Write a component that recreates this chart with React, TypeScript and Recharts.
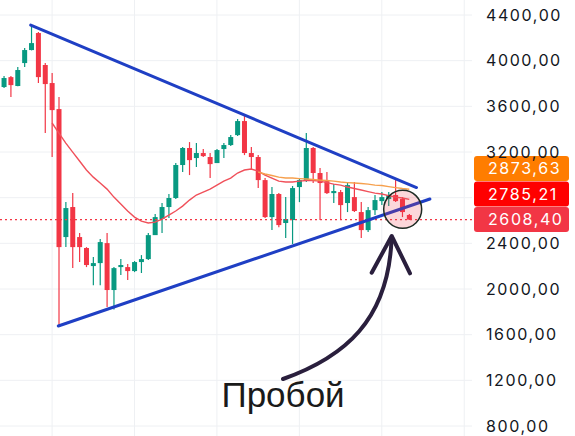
import React from 'react';
import {
  ComposedChart,
  Bar,
  Line,
  XAxis,
  YAxis,
  CartesianGrid,
  ReferenceLine,
  ReferenceDot,
} from 'recharts';

// ---- data ----
const opens = [3590, 3769, 3856, 3778, 3979, 4093, 4242, 3962, 3804, 3576, 2455, 2718, 2455, 2359, 2201, 2227, 2402, 1991, 2192, 2192, 2157, 2236, 2262, 2472, 2613, 2718, 2797, 3086, 3235, 3147, 3191, 3156, 3103, 3226, 3261, 3348, 3471, 3191, 3156, 2954, 2630, 2832, 2578, 2604, 2893, 2954, 3235, 3016, 2945, 2840, 2849, 2753, 2805, 2674, 2516, 2691, 2770, 2788, 2823, 2788, 2648];
const closes = [3735, 3848, 3786, 3918, 4093, 4154, 3856, 3795, 3567, 2367, 2709, 2367, 2367, 2210, 2227, 2411, 1991, 2183, 2210, 2157, 2236, 2262, 2472, 2630, 2718, 2797, 3086, 3235, 3129, 3191, 3164, 3094, 3217, 3261, 3331, 3471, 3191, 3156, 2954, 2630, 2832, 2560, 2613, 2884, 2954, 3235, 3016, 2928, 2840, 2858, 2735, 2910, 2683, 2516, 2691, 2779, 2805, 2823, 2770, 2674, 2608.4];
const highs = [3745, 3865, 3865, 3944, 4111, 4312, 4251, 3979, 3892, 3681, 2761, 2840, 2490, 2367, 2280, 2437, 2490, 2192, 2262, 2218, 2245, 2297, 2490, 2656, 2753, 2832, 3103, 3243, 3287, 3278, 3226, 3191, 3226, 3278, 3348, 3489, 3515, 3243, 3173, 2972, 2893, 2840, 2805, 2902, 2972, 3366, 3243, 3059, 3024, 2919, 2867, 2937, 2937, 2761, 2718, 2823, 2849, 2849, 2954, 2805, 2656];
const lows = [3580, 3760, 3681, 3775, 3944, 4090, 3804, 3366, 3156, 1675, 2367, 2183, 2236, 2192, 2034, 2034, 1842, 1820, 2122, 2078, 2148, 2140, 2253, 2472, 2490, 2621, 2788, 3024, 2998, 3068, 3156, 2972, 3103, 3147, 3252, 3340, 3173, 3042, 2884, 2621, 2516, 2542, 2446, 2394, 2761, 2937, 2928, 2604, 2832, 2753, 2604, 2674, 2674, 2446, 2499, 2648, 2735, 2726, 2761, 2630, 2604];
const maRed: (number | null)[] = [null, null, null, null, null, null, null, null, 3454, 3366, 3278, 3199, 3121, 3042, 2980, 2928, 2875, 2805, 2744, 2683, 2630, 2595, 2578, 2586, 2613, 2648, 2683, 2726, 2779, 2823, 2849, 2875, 2910, 2945, 2972, 3016, 3042, 3051, 3033, 2998, 2972, 2945, 2937, 2937, 2945, 2950, 2950, 2945, 2932, 2919, 2910, 2893, 2880, 2867, 2853, 2840, 2832, 2818, 2805, 2797, 2785];
const maOrange: (number | null)[] = [null, null, null, null, null, null, null, null, null, null, null, null, null, null, null, null, null, null, null, null, null, null, null, null, null, null, null, null, null, null, null, null, null, null, null, null, null, null, 3024, 3007, 2994, 2980, 2972, 2972, 2967, 2963, 2959, 2954, 2950, 2945, 2937, 2932, 2928, 2924, 2919, 2910, 2906, 2897, 2888, 2880, 2874];
const yTicks = [800, 1200, 1600, 2000, 2400, 2800, 3200, 3600, 4000, 4400];
const gridX = [8, 20, 32, 44, 56, 68];
const lastPrice = 2608.4;
const priceTags = [
  { text: '2608,40', color: '#f23645' },
  { text: '2785,21', color: '#ff0000' },
  { text: '2873,63', color: '#ff7d00' },
];
const upperTrend = [{ x: 4.89, y: 4312 }, { x: 61.05, y: 2889 }];
const lowerTrend = [{ x: 8.91, y: 1676 }, { x: 63.0, y: 2788 }];
const breakoutSpot = { x: 59.04, y: 2698 };

const GREEN = '#089981';
const RED = '#f23645';
const BLUE = '#1f3fc4';
const FONT = 'Inter, "Liberation Sans", sans-serif';

const data = opens.map((o, i) => ({
  i,
  open: o,
  close: closes[i],
  high: highs[i],
  low: lows[i],
  range: [lows[i], highs[i]],
  maRed: maRed[i],
  maOrange: maOrange[i],
}));

const Candle = (props: any) => {
  const { x, y, width, height, payload } = props;
  if (!payload || x == null) return null;
  const { open, close, high, low } = payload;
  const color = close >= open ? GREEN : RED;
  const top = Math.min(y, y + height);
  const h = Math.abs(height);
  const per = h / (high - low || 1);
  const bodyTop = top + (high - Math.max(open, close)) * per;
  const bodyH = Math.max(1, Math.abs(open - close) * per);
  const cx = x + width / 2;
  return (
    <g>
      <line x1={cx} x2={cx} y1={top} y2={top + h} stroke={color} strokeWidth={1.2} />
      <rect x={x} y={bodyTop} width={width} height={bodyH} fill={color} />
    </g>
  );
};

const fmt = (v: number) => (v === 2800 ? '' : `${v},00`);

const AxisTick = (props: any) => {
  const { x, y, payload } = props;
  const t = fmt(payload.value);
  if (!t) return null;
  return (
    <text x={x} y={y} dy="0.36em" fill="#131722" fontSize={16} letterSpacing={1.6} fontFamily={FONT} textAnchor="start">
      {t}
    </text>
  );
};

const PriceTags = (props: any) => {
  const vb = props.viewBox || {};
  const cy = vb.y ?? 0;
  const left = (vb.x ?? 0) + (vb.width ?? 0) + 2;
  return (
    <g>
      {priceTags.map((t, k) => {
        const top = cy - 12.5 - k * 25.5;
        return (
          <g key={t.text}>
            <rect x={left} y={top} width={95} height={25} rx={3} fill={t.color} />
            <text x={left + 14} y={top + 12.5} dy="0.36em" fill="#ffffff" fontSize={16} letterSpacing={1.6} fontFamily={FONT}>
              {t.text}
            </text>
          </g>
        );
      })}
    </g>
  );
};

export default function App() {
  return (
    <div style={{ position: 'absolute', left: 0, top: 0, width: 575, height: 436, background: '#ffffff', overflow: 'hidden' }}>
      <ComposedChart width={575} height={436} data={data} margin={{ top: 0, right: 0, bottom: 0, left: 0 }}>
        <CartesianGrid stroke="#eef0f3" verticalValues={gridX} horizontalValues={yTicks} />
        <XAxis dataKey="i" type="number" domain={[0.42, 69.13]} allowDataOverflow hide ticks={gridX} />
        <YAxis
          orientation="right"
          width={103}
          domain={[712.5, 4531.4]}
          allowDataOverflow
          ticks={yTicks}
          interval={0}
          axisLine={false}
          tickLine={false}
          tickSize={0}
          tickMargin={14}
          tick={<AxisTick />}
        />
        <ReferenceDot x={breakoutSpot.x} y={breakoutSpot.y} r={19} fill="rgba(242,54,69,0.2)" stroke="#1e2b24" strokeWidth={1.5} />
        <Line dataKey="maRed" stroke="#f0505a" strokeWidth={1.4} dot={false} isAnimationActive={false} />
        <Line dataKey="maOrange" stroke="#f6a04d" strokeWidth={1.4} dot={false} isAnimationActive={false} />
        <Bar dataKey="range" barSize={5} shape={(p: any) => <Candle {...p} />} isAnimationActive={false} />
        <ReferenceLine y={lastPrice} stroke={RED} strokeDasharray="2 3" strokeWidth={1.2} label={(p: any) => <PriceTags {...p} />} />
        <ReferenceLine segment={upperTrend} stroke={BLUE} strokeWidth={3} strokeLinecap="round" />
        <ReferenceLine segment={lowerTrend} stroke={BLUE} strokeWidth={3} strokeLinecap="round" />
      </ComposedChart>
      <svg width={575} height={436} style={{ position: 'absolute', left: 0, top: 0, pointerEvents: 'none' }}>
        <path d="M 283 379 C 345 357, 388 320, 391.5 240" fill="none" stroke="#2a1f3d" strokeWidth={4} strokeLinecap="round" />
        <polyline points="371.7,272.7 391.7,236 410,273.3" fill="none" stroke="#2a1f3d" strokeWidth={4} strokeLinecap="round" strokeLinejoin="round" />
        <text x={221.5} y={406.5} fontSize={35} fill="#1a1a1a" fontFamily='"Liberation Sans", Arial, sans-serif'>
          Пробой
        </text>
      </svg>
    </div>
  );
}
